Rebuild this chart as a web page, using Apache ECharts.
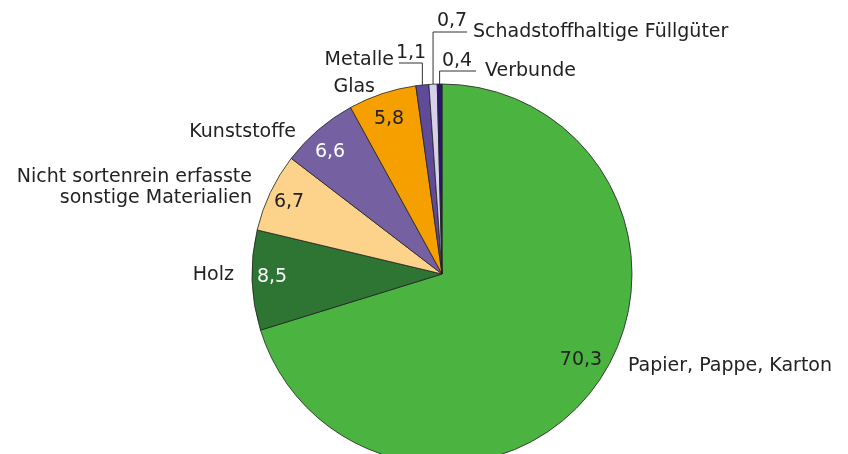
<!DOCTYPE html>
<html>
<head>
<meta charset="utf-8">
<script src="https://cdn.jsdelivr.net/npm/echarts@6/dist/echarts.min.js"></script>
<style>
  html, body { margin: 0; background: #fff; }
  #chart { width: 848px; height: 454px; }
</style>
</head>
<body>
<div id="chart"></div>
<script>
const categories = [
  "Papier, Pappe, Karton",
  "Holz",
  "Nicht sortenrein erfasste\nsonstige Materialien",
  "Kunststoffe",
  "Glas",
  "Metalle",
  "Schadstoffhaltige Füllgüter",
  "Verbunde"
];
const shares = [70.3, 8.5, 6.7, 6.6, 5.8, 1.1, 0.7, 0.4];
const sliceColors = ["#4bb33f", "#2e7433", "#fdd38b", "#7561a1", "#f6a000", "#5f4b98", "#d6d0e8", "#2b166f"];
const valueColors = ["#222", "#fff", "#222", "#fff", "#222", "#222", "#222", "#222"];

// where the labels sit: [x, y, align]
const nameAnchors = [
  [628, 366, "left"],
  [234, 275, "right"],
  [252, 188, "right"],
  [296, 132, "right"],
  [375, 87, "right"],
  [394, 60, "right"],
  [473, 32, "left"],
  [485, 71, "left"]
];
const valueAnchors = [
  [581, 360], [272, 277], [289, 202], [330, 152],
  [389, 119], [411, 53], [452, 21], [457, 61]
];
// thin slices get a bent leader: up, then sideways to [x, y]
const leaderEnds = { 5: [399, 63], 6: [467, 32], 7: [476, 71] };

const textColor = "#222";
const fontFamily = "DejaVu Sans";
const center = [442, 274];
const radius = 190;

const fmt = (v) => String(v).replace(".", ",");

const chart = echarts.init(document.getElementById("chart"), null, { renderer: "canvas" });

chart.setOption({
  animation: false,
  backgroundColor: "#fff",
  series: [
    {
      type: "pie",
      center: center,
      radius: [0, radius],
      startAngle: 90,
      clockwise: true,
      avoidLabelOverlap: false,
      silent: true,
      itemStyle: { borderColor: "#222", borderWidth: 0.8 },
      label: {
        show: true,
        position: "outside",
        color: textColor,
        fontFamily: fontFamily,
        fontSize: 19,
        lineHeight: 21
      },
      labelLine: {
        show: true,
        length: 5,
        length2: 5,
        lineStyle: { color: "#333", width: 1 }
      },
      labelLayout: (params) => {
        const i = params.dataIndex;
        const a = nameAnchors[i];
        const out = { x: a[0], y: a[1], align: a[2], verticalAlign: "middle" };
        const end = leaderEnds[i];
        if (end && params.labelLinePoints) {
          const p0 = params.labelLinePoints[0];
          out.labelLinePoints = [[p0[0], p0[1]], [p0[0], end[1]], [end[0], end[1]]];
        }
        return out;
      },
      data: categories.map((name, i) => ({
        name: name,
        value: shares[i],
        itemStyle: { color: sliceColors[i] },
        labelLine: { show: leaderEnds[i] !== undefined }
      }))
    },
    {
      type: "pie",
      center: center,
      radius: [radius * 0.7, radius],
      startAngle: 90,
      clockwise: true,
      avoidLabelOverlap: false,
      silent: true,
      z: 3,
      itemStyle: { color: "transparent", borderWidth: 0 },
      label: {
        show: true,
        position: "inside",
        fontFamily: fontFamily,
        fontSize: 19,
        formatter: (p) => fmt(p.value)
      },
      labelLine: { show: false },
      labelLayout: (params) => {
        const a = valueAnchors[params.dataIndex];
        return { x: a[0], y: a[1], align: "center", verticalAlign: "middle" };
      },
      data: categories.map((name, i) => ({
        name: name,
        value: shares[i],
        label: { color: valueColors[i] }
      }))
    }
  ]
});
</script>
</body>
</html>
